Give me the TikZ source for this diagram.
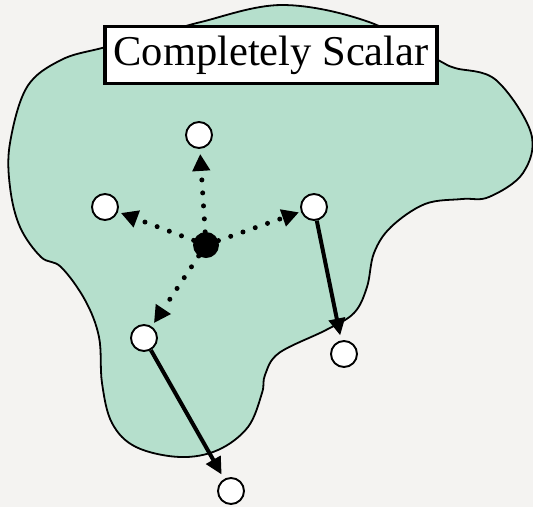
\documentclass[tikz,border=0pt]{standalone}
\usepackage{fontspec}
\setmainfont{Liberation Serif}
\usetikzlibrary{arrows.meta}
\definecolor{paper}{RGB}{244,243,241}
\definecolor{mint}{RGB}{181,223,204}

\begin{document}
\begin{tikzpicture}[x=1pt,y=-1pt,
          pt/.style={draw,circle,fill=white,line width=1.9pt,minimum size=26pt,inner sep=0pt},
          src/.style={circle,fill=black,minimum size=26pt,inner sep=0pt},
          ttl/.style={draw,rectangle,fill=white,line width=3.2pt,minimum width=332pt,minimum height=57pt,inner sep=0pt,font=\fontsize{42.5}{50}\selectfont},
          hop/.style={line width=5pt,line cap=round,dash pattern=on 0pt off 13pt,-{Triangle[length=17pt,width=17pt]}},
          jump/.style={line width=4pt,-{Triangle[length=17pt,width=16pt]},shorten >=5pt}]
        \useasboundingbox[fill=paper] (0,0) rectangle (533,507);
        \draw[mint,fill=mint] plot[smooth cycle,tension=0.6] coordinates {(61,60) (102,48) (160,34) (201,22) (282,5) (369,22) (438,60) (455,68) (496,80) (531,133) (523,173) (489,197) (462,199) (425,204) (391,227) (374,253) (367,287) (354,313) (326,330) (279,353) (265,375) (262,393) (248,427) (218,450) (180,457) (136,447) (112,423) (102,383) (99,337) (85,300) (61,267) (41,257) (20,227) (10,187) (10,143) (27,87)};
        \draw[line width=1.8pt] plot[smooth cycle,tension=0.6] coordinates {(61,60) (102,48) (160,34) (201,22) (282,5) (369,22) (438,60) (455,68) (496,80) (531,133) (523,173) (489,197) (462,199) (425,204) (391,227) (374,253) (367,287) (354,313) (326,330) (279,353) (265,375) (262,393) (248,427) (218,450) (180,457) (136,447) (112,423) (102,383) (99,337) (85,300) (61,267) (41,257) (20,227) (10,187) (10,143) (27,87)};
        \node[ttl] (title) at (271,55) {Completely Scalar};
        \node[src] (0) at (206,245) {};
        \node[pt]  (1) at (199,135) {};
        \node[pt]  (2) at (105,207) {};
        \node[pt]  (3) at (314,207) {};
        \node[pt]  (4) at (144,338) {};
        \node[pt]  (5) at (344,354) {};
        \node[pt]  (6) at (231,491) {};
        \draw[hop,shorten >=5pt] (0) -- (1);
        \draw[hop,shorten >=3pt] (0) -- (2);
        \draw[hop,shorten >=2pt] (0) -- (3);
        \draw[hop,shorten >=4pt] (0) -- (4);
        \draw[jump] (3) -- (5);
        \draw[jump] (4) -- (6);
      \end{tikzpicture}
\end{document}
